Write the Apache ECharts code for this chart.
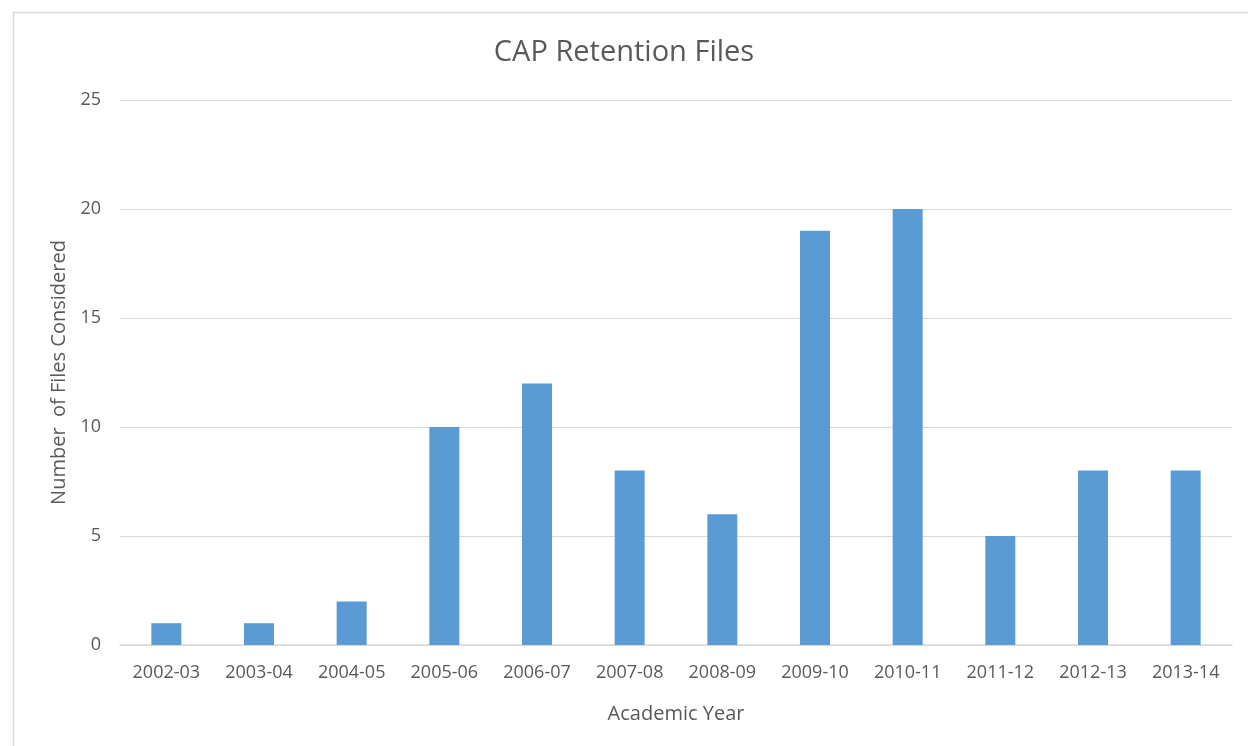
<!DOCTYPE html>
<html>
<head>
<meta charset="utf-8">
<script src="https://cdn.jsdelivr.net/npm/echarts@6/dist/echarts.min.js"></script>
<style>
  html, body { margin: 0; padding: 0; background: #fff; }
  #main { width: 1248px; height: 746px; }
</style>
</head>
<body>
<div id="main"></div>
<script>
// academic years on the x axis
const years = ['2002-03', '2003-04', '2004-05', '2005-06', '2006-07', '2007-08',
  '2008-09', '2009-10', '2010-11', '2011-12', '2012-13', '2013-14']
// files considered per year
const filesConsidered = [1, 1, 2, 10, 12, 8, 6, 19, 20, 5, 8, 8]

const textColor = '#595959'
const fontFamily = 'Open Sans'

const chart = echarts.init(document.getElementById('main'))
chart.setOption({
  animation: false,
  backgroundColor: '#fff',
  textStyle: { fontFamily: fontFamily },
  graphic: [{
    type: 'rect',
    left: 11, top: 10,
    shape: { width: 1260, height: 760 },
    style: { fill: 'none', stroke: '#d9d9d9', lineWidth: 1.5 },
    silent: true,
  }],
  title: {
    text: 'CAP Retention Files',
    left: 'center',
    top: 33,
    textStyle: { color: textColor, fontSize: 29, fontWeight: 'normal', fontFamily: fontFamily },
  },
  grid: { left: 120, right: 16, top: 100, bottom: 101, containLabel: false },
  xAxis: {
    type: 'category',
    data: years,
    name: 'Academic Year',
    nameLocation: 'middle',
    nameGap: 59,
    nameTextStyle: { color: textColor, fontSize: 20, fontFamily: fontFamily },
    axisLine: { lineStyle: { color: '#d9d9d9', width: 1.5 } },
    axisTick: { show: false },
    axisLabel: { color: textColor, fontSize: 18, margin: 19, fontFamily: fontFamily },
  },
  yAxis: {
    type: 'value',
    min: 0,
    max: 25,
    interval: 5,
    name: 'Number  of Files Considered',
    nameLocation: 'middle',
    nameGap: 51,
    nameTextStyle: { color: textColor, fontSize: 20, fontFamily: fontFamily },
    axisLine: { show: false },
    axisTick: { show: false },
    axisLabel: { color: textColor, fontSize: 18, margin: 19, fontFamily: fontFamily },
    splitLine: { lineStyle: { color: '#d9d9d9', width: 1 } },
  },
  series: [{
    type: 'bar',
    data: filesConsidered,
    barWidth: 30,
    itemStyle: { color: '#5b9bd5' },
  }],
})
</script>
</body>
</html>
